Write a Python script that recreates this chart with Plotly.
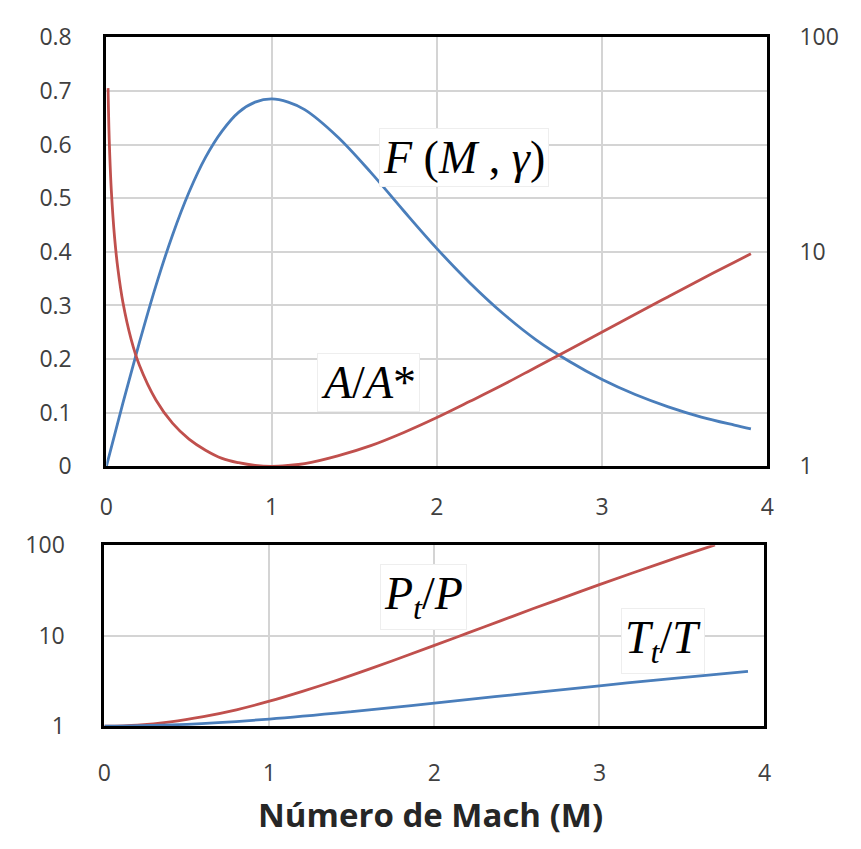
import plotly.graph_objects as go

# ---- data ----
mach_f = [0, 0.1, 0.2, 0.3, 0.4, 0.5, 0.6, 0.7, 0.8, 0.9, 1.0, 1.1, 1.2, 1.4, 1.6, 1.8, 2.0,
          2.2, 2.4, 2.6, 2.8, 3.0, 3.2, 3.4, 3.6, 3.8, 3.9]
f_param = [0, 0.118, 0.231, 0.337, 0.431, 0.511, 0.576, 0.625, 0.660, 0.679, 0.685, 0.679,
           0.665, 0.614, 0.548, 0.476, 0.406, 0.342, 0.285, 0.236, 0.196, 0.162, 0.134,
           0.111, 0.092, 0.077, 0.070]

mach_a = [0.01, 0.015, 0.02, 0.03, 0.05, 0.07, 0.1, 0.15, 0.2, 0.3, 0.4, 0.5, 0.6, 0.7, 0.8,
          0.9, 1.0, 1.1, 1.2, 1.4, 1.6, 1.8, 2.0, 2.2, 2.4, 2.6, 2.8, 3.0, 3.2, 3.4, 3.6, 3.8, 3.9]
area_ratio = [57.9, 38.6, 28.9, 19.3, 11.6, 8.30, 5.82, 3.91, 2.96, 2.04, 1.59, 1.34, 1.19,
              1.09, 1.04, 1.01, 1.00, 1.01, 1.03, 1.12, 1.25, 1.44, 1.69, 2.01, 2.40, 2.90,
              3.50, 4.23, 5.12, 6.18, 7.45, 8.95, 9.79]

mach_b = [0, 0.2, 0.4, 0.6, 0.8, 1.0, 1.2, 1.4, 1.6, 1.8, 2.0, 2.2, 2.4, 2.6, 2.8, 3.0, 3.2,
          3.4, 3.6, 3.7]
pt_p = [1.0, 1.03, 1.12, 1.28, 1.52, 1.89, 2.43, 3.18, 4.25, 5.75, 7.82, 10.7, 14.6, 20.0,
        27.1, 36.7, 49.4, 66.1, 87.8, 101]

mach_t = [0, 0.5, 1.0, 1.5, 2.0, 2.5, 3.0, 3.5, 3.9]
tt_t = [1.0, 1.05, 1.2, 1.45, 1.8, 2.25, 2.8, 3.45, 4.04]

x_ticks = [0, 1, 2, 3, 4]
left_ticks = [0, 0.1, 0.2, 0.3, 0.4, 0.5, 0.6, 0.7, 0.8]
left_labels = ["0", "0.1", "0.2", "0.3", "0.4", "0.5", "0.6", "0.7", "0.8"]
log_ticks = [1, 10, 100]
log_labels = ["1", "10", "100"]

BLUE = "#4a7ebb"
RED = "#c0504d"
W, H = 861, 849

fig = go.Figure()
fig.add_trace(go.Scatter(x=mach_f, y=f_param, mode="lines", line=dict(color=BLUE, width=2.8,
                         shape="spline"), xaxis="x", yaxis="y", showlegend=False))
fig.add_trace(go.Scatter(x=mach_a, y=area_ratio, mode="lines", line=dict(color=RED, width=2.8,
                         shape="spline"), xaxis="x", yaxis="y2", showlegend=False))
fig.add_trace(go.Scatter(x=mach_b, y=pt_p, mode="lines", line=dict(color=RED, width=2.8,
                         shape="spline"), xaxis="x2", yaxis="y3", showlegend=False))
fig.add_trace(go.Scatter(x=mach_t, y=tt_t, mode="lines", line=dict(color=BLUE, width=2.8,
                         shape="spline"), xaxis="x2", yaxis="y3", showlegend=False))

tickfont = dict(family="Open Sans, Lato, sans-serif", size=23, color="#404040")
grid = "#d4d4d4"
box = dict(showline=True, linecolor="black", linewidth=3, mirror=True, ticks="")

def px(x):
    return x / W

def py(y):
    return 1 - y / H

fig.update_layout(
    width=W, height=H, margin=dict(l=0, r=0, t=0, b=0),
    paper_bgcolor="white", plot_bgcolor="white",
    xaxis=dict(domain=[px(101), px(773)], range=[0, 4], tickvals=x_ticks,
               ticktext=[str(v) for v in x_ticks], tickfont=tickfont, showgrid=True,
               gridcolor=grid, gridwidth=1.5, zeroline=False, ticklabelstandoff=18,
               anchor="y", **box),
    yaxis=dict(domain=[py(467), py(21)], range=[0, 0.8], tickvals=left_ticks,
               ticktext=left_labels, tickfont=tickfont, showgrid=True, gridcolor=grid,
               gridwidth=2, zeroline=False, ticklabelstandoff=27, anchor="x", **box),
    yaxis2=dict(overlaying="y", side="right", type="log", range=[0, 2], tickvals=log_ticks,
                ticktext=log_labels, tickfont=tickfont, showgrid=False, zeroline=False,
                ticklabelstandoff=31, anchor="x", showline=False, ticks=""),
    xaxis2=dict(domain=[px(99), px(770)], range=[0, 4], tickvals=x_ticks,
                ticktext=[str(v) for v in x_ticks], tickfont=tickfont, showgrid=True,
                gridcolor=grid, gridwidth=1.5, zeroline=False, ticklabelstandoff=24,
                anchor="y3", **box),
    yaxis3=dict(domain=[py(737), py(549)], type="log", range=[0, 2], tickvals=log_ticks,
                ticktext=log_labels, tickfont=tickfont, showgrid=True, gridcolor=grid,
                gridwidth=2, zeroline=False, ticklabelstandoff=32, anchor="x2", **box),
)

serif = dict(family="Liberation Serif, Times New Roman, serif", size=46, color="black")
labels = [
    ("<i>F</i> (<i>M</i> , <i>γ</i>)", 465, 146),
    ("<i>A</i>/<i>A</i>*", 367, 380),
    ("<i>P<sub>t</sub></i>/<i>P</i>", 423, 603),
    ("<i>T<sub>t</sub></i>/<i>T</i>", 667, 648),
]
for text, x, y in labels:
    fig.add_annotation(text=text, x=px(x), y=py(y), xref="paper", yref="paper",
                       xanchor="center", yanchor="middle",
                       showarrow=False, font=serif, bgcolor="white",
                       bordercolor="#eeeeee", borderwidth=1, borderpad=3)

fig.add_annotation(text="<b>Número de Mach (M)</b>", x=px(430), y=py(829), xref="paper",
                   yref="paper", xanchor="center", yanchor="middle", showarrow=False,
                   font=dict(family="Open Sans, Lato, sans-serif", size=33, color="#262626"))

fig.write_html("out.html")
